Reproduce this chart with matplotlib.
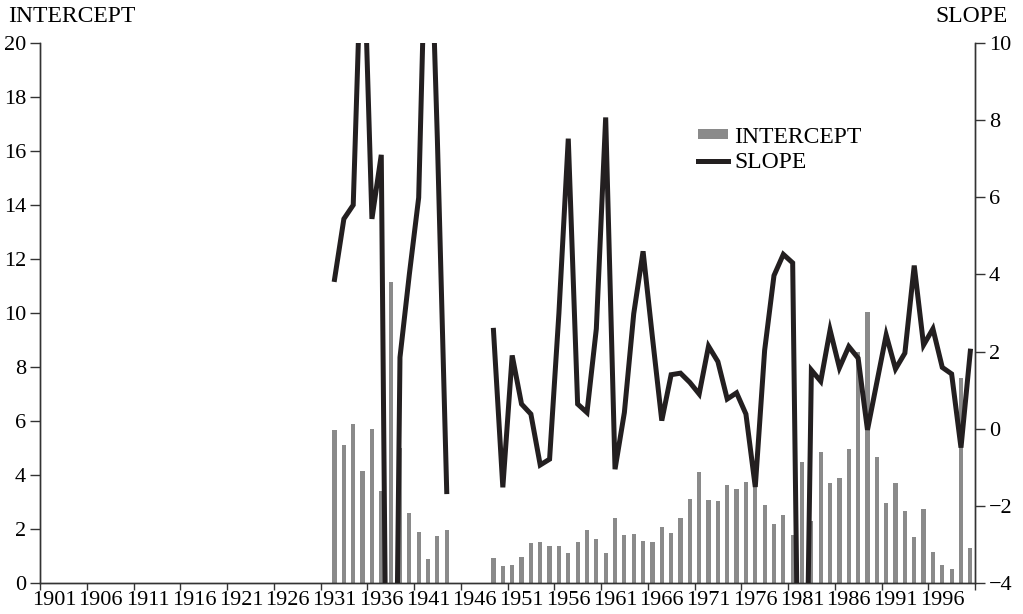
import matplotlib

matplotlib.use("Agg")
import matplotlib.pyplot as plt
import numpy as np
from matplotlib.lines import Line2D
from matplotlib.patches import Patch

plt.rcParams["font.family"] = ["Liberation Serif", "DejaVu Serif"]
plt.rcParams["axes.unicode_minus"] = True

# data years 1931-1999; 1944-1947 missing
years = np.arange(1931, 2000)

intercept = [
    5.65, 5.1, 5.9, 4.15, 5.7, 3.4, 11.15, 5.0, 2.6, 1.9, 0.9, 1.75, 1.95,
    np.nan, np.nan, np.nan, np.nan,
    0.91, 0.63, 0.67, 0.95, 1.47, 1.53, 1.37, 1.37, 1.10, 1.53,
    1.96, 1.62, 1.10, 2.42, 1.78, 1.81, 1.56, 1.53, 2.09, 1.86,
    2.39, 3.11, 4.10, 3.07, 3.05, 3.62, 3.47, 3.74, 3.63, 2.89,
    2.19, 2.51, 1.78, 4.48, 2.31, 4.84, 3.72, 3.90, 4.95, 8.57,
    10.05, 4.68, 2.97, 3.72, 2.67, 1.69, 2.74, 1.14, 0.67, 0.51,
    7.58, 1.31,
]

slope = [
    3.87, 5.44, 5.80, 13.5, 5.44, 7.10, -20.0, 1.85, 4.0, 5.99, 15.4, 7.5, -1.63,
    np.nan, np.nan, np.nan, np.nan,
    2.55, -1.52, 1.90, 0.64, 0.38, -0.94, -0.79, 3.0, 7.52, 0.64,
    0.42, 2.59, 8.07, -1.05, 0.42, 2.98, 4.60, 2.37, 0.21, 1.40,
    1.44, 1.20, 0.90, 2.14, 1.74, 0.77, 0.93, 0.38, -1.51, 2.03,
    3.97, 4.52, 4.30, -14.9, 1.52, 1.23, 2.56, 1.58, 2.13, 1.83,
    -0.03, 1.20, 2.43, 1.55, 1.96, 4.23, 2.17, 2.59, 1.59, 1.42,
    -0.49, 2.01,
]

tick_years = np.arange(1901, 2000, 5)
left_ticks = np.arange(0, 21, 2)
right_ticks = np.arange(-4, 11, 2)

BAR = "#8a8a8a"
LINE = "#231f20"
AX = "#333333"
FS = 17
TFS = 16

fig = plt.figure(figsize=(10.23, 6.14), dpi=100)
ax = fig.add_axes([40 / 1023, 31 / 614, 935 / 1023, 540 / 614])
ax2 = ax.twinx()

ax.bar(years, intercept, width=0.45, color=BAR, zorder=2)
ax2.plot(years, slope, color=LINE, lw=3.6, solid_joinstyle="miter", zorder=3)

ax.set_xlim(1899.5, 1999.5)
ax.set_ylim(0, 20)
ax2.set_ylim(-4, 10)

# tick marks on category boundaries, labels on category centres
ax.set_xticks(np.arange(1899.5, 2000, 5))
ax.set_xticklabels([])
ax.set_xticks(tick_years, minor=True)
ax.set_xticklabels([str(y) for y in tick_years], minor=True, fontsize=TFS)
ax.tick_params(axis="x", which="minor", length=0, pad=6)
ax.tick_params(axis="x", which="major", length=5, width=1, color=AX, direction="out")

ax.set_yticks(left_ticks)
ax.set_yticklabels([str(v) for v in left_ticks], fontsize=TFS)
ax.tick_params(axis="y", length=7, width=1, color=AX, pad=3)
ax2.set_yticks(right_ticks)
ax2.set_yticklabels([f"{v}".replace("-", "\u2212") for v in right_ticks], fontsize=TFS)
ax2.tick_params(axis="y", length=7, width=1, color=AX, pad=3)

for a in (ax, ax2):
    a.spines["top"].set_visible(False)
    for s in ("left", "right", "bottom"):
        a.spines[s].set_color(AX)
        a.spines[s].set_linewidth(1)

fig.text(8 / 1023, 1 - 16 / 614, "INTERCEPT", fontsize=FS, va="center", ha="left")
fig.text(1008 / 1023, 1 - 16 / 614, "SLOPE", fontsize=FS, va="center", ha="right")

handles = [
    Patch(facecolor=BAR, edgecolor="none"),
    Line2D([], [], color=LINE, lw=3.6),
]
fig.legend(handles, ["INTERCEPT", "SLOPE"], loc="upper left",
           bbox_to_anchor=(681 / 1023, 1 - 110 / 614), frameon=False,
           fontsize=FS, handlelength=1.3, handleheight=0.3,
           handletextpad=0.25, labelspacing=0.2, borderpad=0.2)

fig.savefig("out.png", dpi=100)
